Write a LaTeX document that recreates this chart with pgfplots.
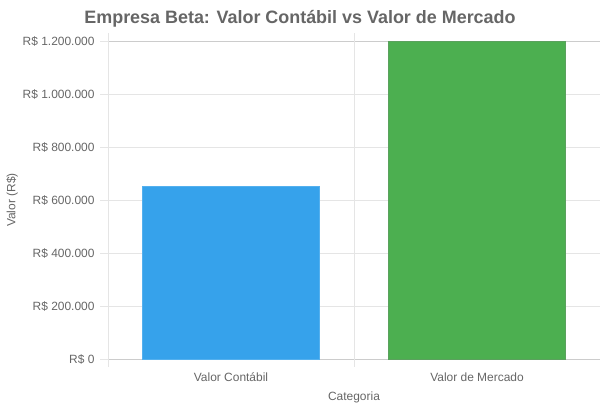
\documentclass[border=0pt]{standalone}
\usepackage{pgfplots}
\pgfplotsset{compat=1.18}
\usepackage{fontspec}
\setmainfont{Liberation Sans}
\definecolor{txt}{HTML}{666666}
\definecolor{gridc}{HTML}{E5E5E5}
\definecolor{axc}{HTML}{CCCCCC}
\definecolor{cblue}{HTML}{36A2EB}
\definecolor{cgreen}{HTML}{4CAF50}
\begin{document}
\begin{tikzpicture}[x=1bp,y=1bp]
\path[use as bounding box] (0,0) rectangle (600,410);
\begin{axis}[
  at={(108bp,51bp)}, anchor=south west,
  scale only axis, width=492bp, height=318bp,
  xmin=-0.5, xmax=1.5, ymin=0, ymax=1200000,
  xtick={0,1}, xticklabels={Valor Contábil, Valor de Mercado},
  ytick={0,200000,400000,600000,800000,1000000,1200000},
  yticklabels={R\$ 0,R\$ 200.000,R\$ 400.000,R\$ 600.000,R\$ 800.000,R\$ 1.000.000,R\$ 1.200.000},
  scaled y ticks=false,
  ymajorgrids=true, xmajorgrids=false,
  grid style={gridc, line width=0.8bp},
  axis line style={axc, line width=0.8bp},
  tick align=outside, major tick length=8bp,
  x tick style={draw=none},
  y tick style={gridc, line width=0.8bp},
  extra x ticks={-0.5,0.5,1.5}, extra x tick labels={},
  extra x tick style={xmajorgrids=true, x tick style={draw=gridc, line width=0.8bp}},
  ticklabel style={font=\fontsize{12}{14}\selectfont, text=txt},
  yticklabel style={xshift=-2bp},
  xticklabel style={yshift=-2bp},
  xlabel={Categoria}, ylabel={Valor (R\$)},
  label style={font=\fontsize{12}{14}\selectfont, text=txt},
  xlabel style={at={(0.5,0)}, anchor=center, yshift=-38bp},
  ylabel style={yshift=-2bp},
  title={Empresa Beta: Valor Contábil vs Valor de Mercado},
  title style={font=\bfseries\fontsize{18}{21}\selectfont, text=txt, yshift=4bp, xshift=-54bp},
  ybar, bar width=0.72, bar shift=0pt,
  clip=false,
]
\addplot[fill=cblue, draw=cblue!85!white, line width=0.8bp] coordinates {(0,650000)};
\addplot[fill=cgreen, draw=cgreen!70!gray, line width=0.8bp] coordinates {(1,1200000)};
\end{axis}
\end{tikzpicture}
\end{document}
